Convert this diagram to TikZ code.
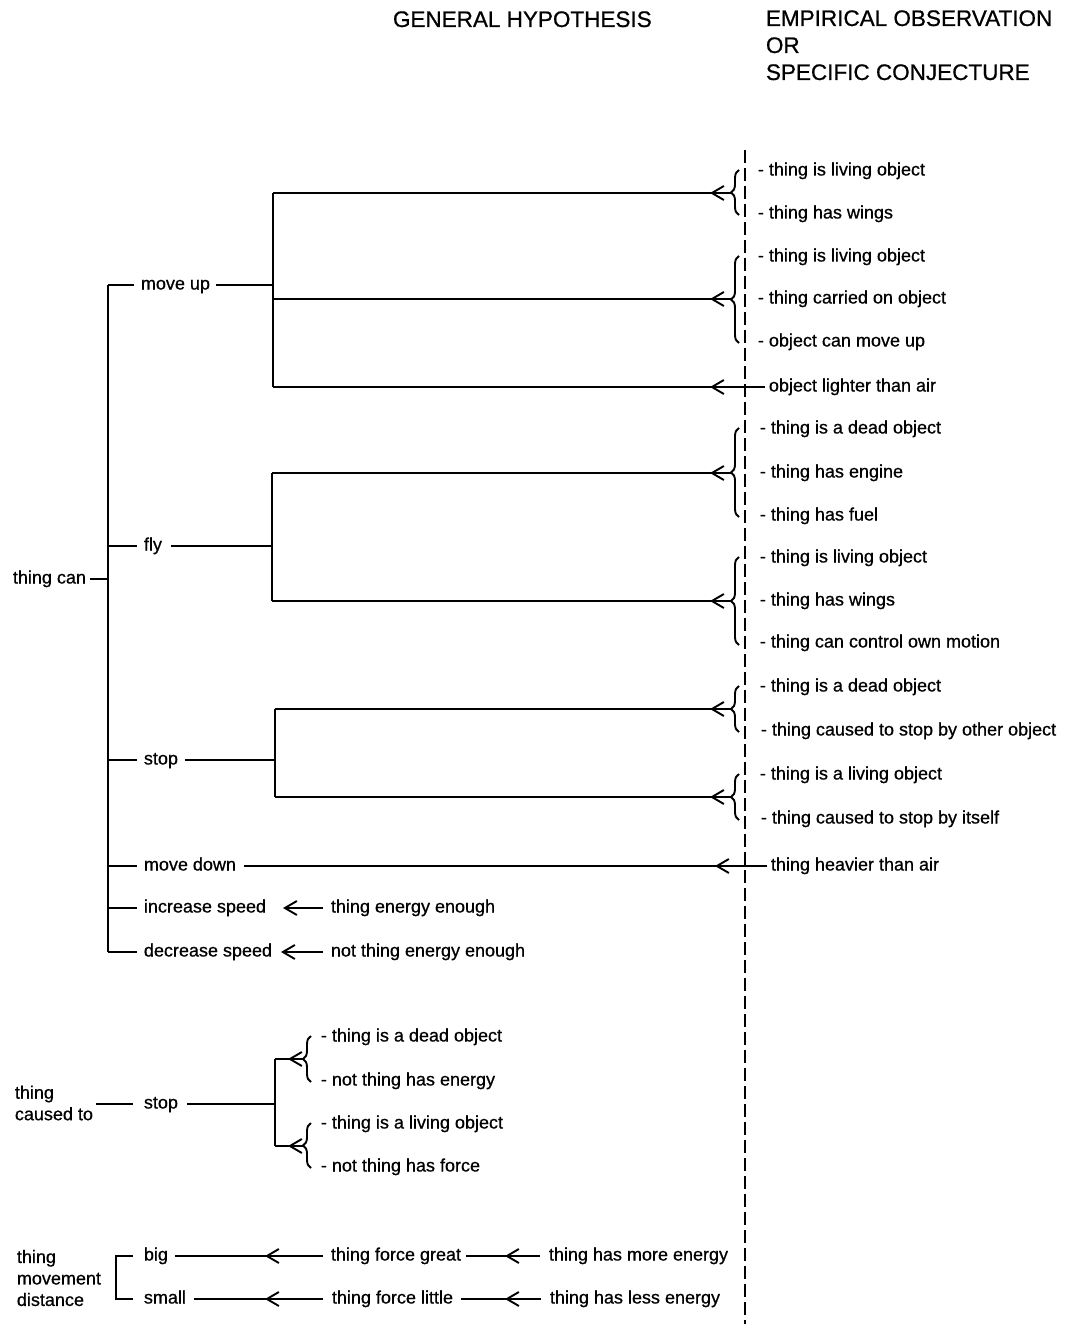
\documentclass[tikz,border=0pt]{standalone}
\usepackage{fontspec}
\setmainfont{Liberation Sans}[FakeBold=0.7]
\usetikzlibrary{arrows.meta,decorations.pathreplacing,decorations.markings}
\begin{document}
\begin{tikzpicture}[x=1pt,y=-1pt,
  line width=1.9pt,
  >={Straight Barb[length=12pt,width=14pt]},
  txt/.style={anchor=west,inner sep=0pt,font=\fontsize{18}{21.5}\selectfont,text height=13pt,text depth=4pt},
  multi/.style={anchor=west,inner sep=0pt,font=\fontsize{18}{21.5}\selectfont,align=left},
  head/.style={anchor=west,inner sep=0pt,font=\fontsize{22.5}{27}\selectfont,text height=16pt,text depth=0pt},
  tipat/.style={postaction={decorate},decoration={markings,mark=at position #1 with {\arrow{>}}}},
  grp/.style={decorate,decoration={brace,amplitude=8pt}},
  divider/.style={line width=2.2pt,dash pattern=on 13pt off 5pt},
]
\useasboundingbox (0,0) rectangle (1074,1324);

% column headings
\node[head] (hg)  at (392,19) {GENERAL HYPOTHESIS};
\node[head] (he1) at (765,18) {EMPIRICAL OBSERVATION};
\node[head] (he2) at (765,45) {OR};
\node[head] (he3) at (765,72) {SPECIFIC CONJECTURE};

% dividing line between the two columns
\draw[divider] (745,150) -- (745,1324);

% ---------- thing can ----------
\node[txt] (root) at (12,579) {thing can};
\coordinate (railtop) at (108,285);
\coordinate (railbot) at (108,952);
\draw (railtop) -- (railbot);
\draw[shorten <=3pt] (root.east) -- (root.east -| railtop);

\node[txt] (moveup)   at (140,285) {move up};
\node[txt] (fly)      at (143,546) {fly};
\node[txt] (stop)     at (143,760) {stop};
\node[txt] (movedown) at (143,866) {move down};
\node[txt] (incsp)    at (143,908) {increase speed};
\node[txt] (decsp)    at (143,952) {decrease speed};
\foreach \b in {moveup,fly,stop,movedown,incsp,decsp}
  \draw[shorten >=6pt] (\b.west -| railtop) -- (\b.west);

% move up
\coordinate (muv1) at (273,193);
\coordinate (muv2) at (273,299);
\coordinate (muv3) at (273,387);
\draw (muv1) -- (muv3);
\draw[shorten <=5pt] (moveup.east) -- (moveup.east -| muv1);

\node[txt] (o1) at (757,171) {- thing is living object};
\node[txt] (o2) at (757,214) {- thing has wings};
\draw[grp] (739,215) -- (739,170);
\coordinate (b1) at (731,193);
\draw[tipat=21pt] (b1) -- (muv1);

\node[txt] (o3) at (757,257) {- thing is living object};
\node[txt] (o4) at (757,299) {- thing carried on object};
\node[txt] (o5) at (757,342) {- object can move up};
\draw[grp] (739,343) -- (739,256);
\coordinate (b2) at (731,299);
\draw[tipat=21pt] (b2) -- (muv2);

\node[txt] (o6) at (768,387) {object lighter than air};
\draw[tipat=55pt] ([xshift=-3pt]o6.west) -- (muv3);

% fly
\coordinate (fv1) at (272,473);
\coordinate (fv2) at (272,601);
\draw (fv1) -- (fv2);
\draw[shorten <=8pt] (fly.east) -- (fly.east -| fv1);

\node[txt] (o7) at (759,429) {- thing is a dead object};
\node[txt] (o8) at (759,473) {- thing has engine};
\node[txt] (o9) at (759,516) {- thing has fuel};
\draw[grp] (739,517) -- (739,428);
\coordinate (b3) at (731,473);
\draw[tipat=21pt] (b3) -- (fv1);

\node[txt] (o10) at (759,558) {- thing is living object};
\node[txt] (o11) at (759,601) {- thing has wings};
\node[txt] (o12) at (759,643) {- thing can control own motion};
\draw[grp] (739,645) -- (739,557);
\coordinate (b4) at (731,601);
\draw[tipat=21pt] (b4) -- (fv2);

% stop
\coordinate (sv1) at (275,709);
\coordinate (sv2) at (275,797);
\draw (sv1) -- (sv2);
\draw[shorten <=6pt] (stop.east) -- (stop.east -| sv1);

\node[txt] (o13) at (759,687) {- thing is a dead object};
\node[txt] (o14) at (760,731) {- thing caused to stop by other object};
\draw[grp] (739,732) -- (739,686);
\coordinate (b5) at (731,709);
\draw[tipat=21pt] (b5) -- (sv1);

\node[txt] (o15) at (759,775) {- thing is a living object};
\node[txt] (o16) at (760,819) {- thing caused to stop by itself};
\draw[grp] (739,820) -- (739,774);
\coordinate (b6) at (731,797);
\draw[tipat=21pt] (b6) -- (sv2);

% move down
\node[txt] (o17) at (770,866) {thing heavier than air};
\draw[tipat=52pt] ([xshift=-3pt]o17.west) -- ([xshift=7pt]movedown.east);

% increase / decrease speed
\node[txt] (ie) at (330,908) {thing energy enough};
\node[txt] (de) at (330,952) {not thing energy enough};
\draw[->] ([xshift=-7pt]ie.west) -- ([xshift=16pt]incsp.east);
\draw[->] ([xshift=-7pt]de.west) -- ([xshift=8pt]decsp.east);

% ---------- thing caused to ----------
\node[multi] (tc) at (14,1103) {thing\\caused to};
\node[txt] (stop2) at (143,1104) {stop};
\draw[shorten <=2pt,shorten >=10pt] (tc.east |- stop2.west) -- (stop2.west);
\coordinate (cv1) at (275,1059);
\coordinate (cv2) at (275,1146);
\draw (cv1) -- (cv2);
\draw[shorten <=8pt] (stop2.east) -- (stop2.east -| cv1);

\node[txt] (c1) at (320,1037) {- thing is a dead object};
\node[txt] (c2) at (320,1081) {- not thing has energy};
\draw[grp] (311,1082) -- (311,1036);
\coordinate (cb1) at (303,1059);
\draw[tipat=15pt] (cb1) -- (cv1);

\node[txt] (c3) at (320,1124) {- thing is a living object};
\node[txt] (c4) at (320,1167) {- not thing has force};
\draw[grp] (311,1168) -- (311,1123);
\coordinate (cb2) at (303,1146);
\draw[tipat=15pt] (cb2) -- (cv2);

% ---------- thing movement distance ----------
\node[multi] (tmd) at (16,1278) {thing\\movement\\distance};
\node[txt] (big)   at (143,1256) {big};
\node[txt] (small) at (143,1299) {small};
\draw ([xshift=-10pt]big.west) -| (116,1278) |- ([xshift=-10pt]small.west);

\node[txt] (tfg) at (330,1256) {thing force great};
\node[txt] (tfl) at (331,1299) {thing force little};
\node[txt] (hme) at (548,1256) {thing has more energy};
\node[txt] (hle) at (549,1299) {thing has less energy};
\draw[tipat=58pt] ([xshift=-7pt]tfg.west) -- ([xshift=6pt]big.east);
\draw[tipat=58pt] ([xshift=-8pt]tfl.west) -- ([xshift=7pt]small.east);
\draw[tipat=35pt] ([xshift=-8pt]hme.west) -- ([xshift=4pt]tfg.east);
\draw[tipat=36pt] ([xshift=-8pt]hle.west) -- ([xshift=7pt]tfl.east);
\end{tikzpicture}
\end{document}
